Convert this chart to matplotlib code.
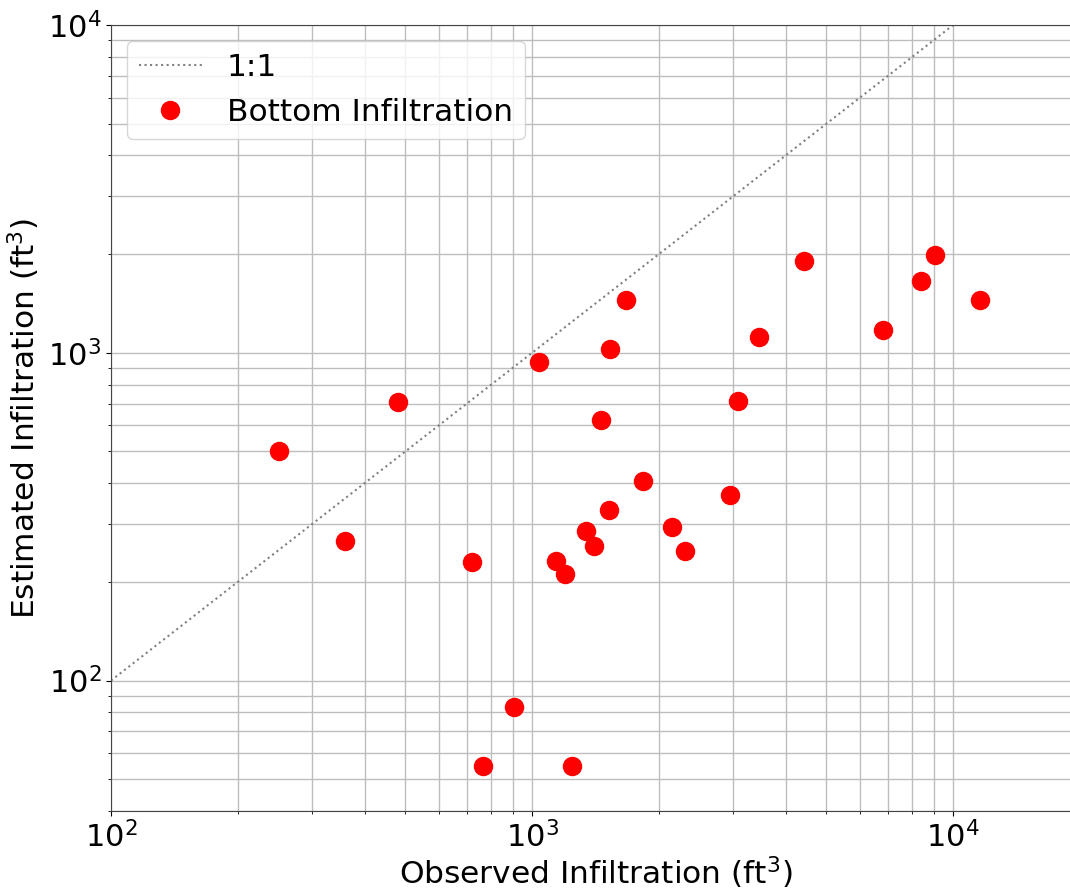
import matplotlib
matplotlib.use("Agg")
import matplotlib.pyplot as plt
import numpy as np

# observed vs estimated bottom infiltration volumes (ft^3)
observed = [250, 360, 480, 720, 765, 905, 1040, 1140, 1200, 1245, 1345, 1400,
            1460, 1525, 1535, 1670, 1835, 2150, 2305, 2950, 3080, 3460, 4430,
            6820, 8400, 9070, 11550]
estimated = [500, 267, 710, 230, 55, 83, 940, 231, 212, 55, 286, 258,
             625, 332, 1030, 1450, 407, 295, 249, 369, 714, 1120, 1905,
             1170, 1660, 1990, 1450]
one_to_one = [100, 10000]

fig = plt.figure(figsize=(10.7, 8.9), dpi=100)
ax = fig.add_axes([111 / 1070, 1 - 811 / 890, (1080 - 111) / 1070, (811 - 25) / 890])

ax.plot(one_to_one, one_to_one, linestyle=":", color="gray", lw=1.5, label="1:1")
ax.plot(observed, estimated, "o", color="red", ms=13, label="Bottom Infiltration")

ax.set_xscale("log")
ax.set_yscale("log")
ax.set_xlim(100, 20000)
ax.set_ylim(40, 10000)

ax.grid(True, which="major", color="#bdbdbd", lw=1.0)
ax.grid(True, which="minor", color="#bdbdbd", lw=1.0)
ax.set_axisbelow(True)
for s in ax.spines.values():
    s.set_color("#444444")

ax.tick_params(labelsize=22)
ax.set_xlabel("Observed Infiltration (ft$^3$)", fontsize=22.5, labelpad=1)
ax.set_ylabel("Estimated Infiltration (ft$^3$)", fontsize=22.5)
ax.legend(loc="upper left", fontsize=22.5)

fig.savefig("out.png", dpi=100)
